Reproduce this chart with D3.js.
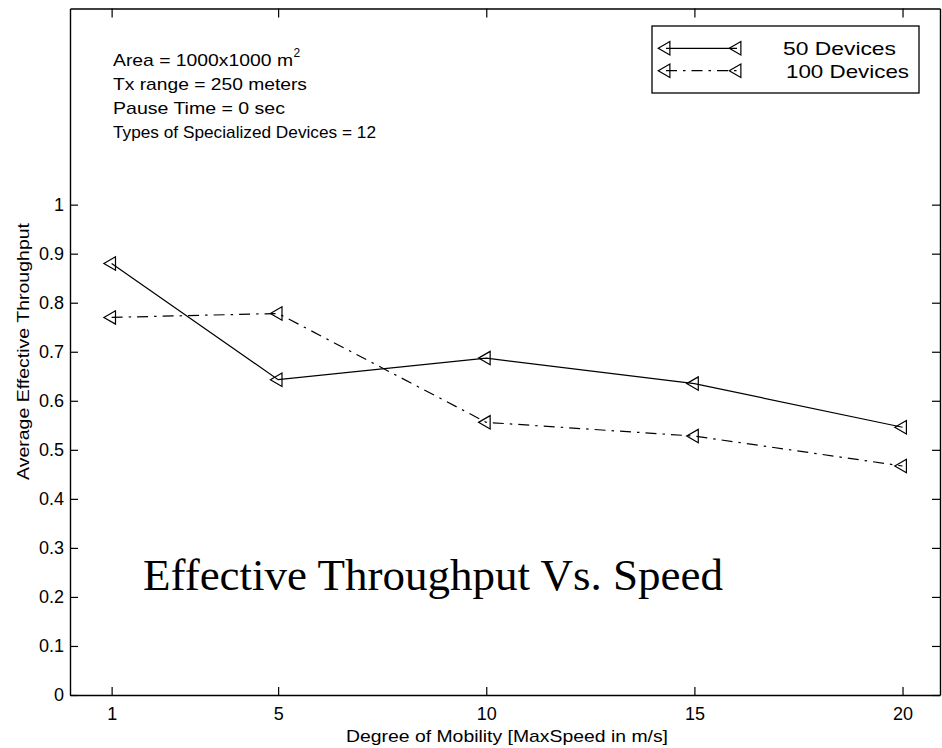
<!DOCTYPE html>
<html>
<head>
<meta charset="utf-8">
<script src="https://cdn.jsdelivr.net/npm/d3@7"></script>
<style>
  body { margin: 0; background: #fff; }
  text { font-family: "Liberation Sans", Arial, Helvetica, sans-serif; fill: #000; }
</style>
</head>
<body>
<div id="chart"></div>
<script>
// Data
const speeds = [1, 5, 10, 15, 20];
const devices50 = [0.880, 0.643, 0.687, 0.635, 0.546];
const devices100 = [0.770, 0.778, 0.556, 0.528, 0.467];
const seriesNames = ["50 Devices", "100 Devices"];
const xTicks = [1, 5, 10, 15, 20];
const yTicks = [0, 0.1, 0.2, 0.3, 0.4, 0.5, 0.6, 0.7, 0.8, 0.9, 1];
const yTickLabels = ["0", "0.1", "0.2", "0.3", "0.4", "0.5", "0.6", "0.7", "0.8", "0.9", "1"];
const notes = ["Area = 1000x1000 m", "Tx range = 250 meters", "Pause Time = 0 sec", "Types of Specialized Devices = 12"];

const W = 942, H = 748;
const plotL = 70, plotR = 940, plotT = 8.5, plotB = 695;

const svg = d3.select("#chart").append("svg")
  .attr("width", W).attr("height", H)
  .style("background", "#fff");

// Scales
const x = d3.scaleLinear().domain([0, 20.9]).range([plotL, plotR]);
const y = d3.scaleLinear().domain([0, 1.4]).range([plotB, plotT]);

// Axes (box with inward ticks on all sides)
const styleAxis = g => {
  g.select(".domain").attr("stroke", "#000").attr("stroke-width", 1.4);
  g.selectAll(".tick line").attr("stroke", "#000").attr("stroke-width", 1.2);
  g.selectAll(".tick text").attr("fill", "#000")
    .style("font-size", "18px")
    .style("font-family", '"Liberation Sans", Arial, sans-serif');
};

svg.append("g")
  .attr("transform", `translate(0,${plotB})`)
  .call(d3.axisBottom(x).tickValues(xTicks).tickSize(-8).tickSizeOuter(0).tickPadding(12))
  .call(styleAxis);

svg.append("g")
  .attr("transform", `translate(0,${plotT})`)
  .call(d3.axisTop(x).tickValues(xTicks).tickSize(-9).tickSizeOuter(0).tickFormat(""))
  .call(styleAxis);

svg.append("g")
  .attr("transform", `translate(${plotL},0)`)
  .call(d3.axisLeft(y).tickValues(yTicks).tickSize(-8).tickSizeOuter(0).tickPadding(6)
    .tickFormat((d, i) => yTickLabels[i]))
  .call(styleAxis);

svg.append("g")
  .attr("transform", `translate(${plotR},0)`)
  .call(d3.axisRight(y).tickValues(yTicks).tickSize(-8).tickSizeOuter(0).tickFormat(""))
  .call(styleAxis);

// Axis labels
svg.append("text")
  .attr("x", 346).attr("y", 742)
  .attr("textLength", 322).attr("lengthAdjust", "spacingAndGlyphs")
  .style("font-size", "17px")
  .text("Degree of Mobility [MaxSpeed in m/s]");

svg.append("text")
  .attr("transform", "translate(29,351.5) rotate(-90)")
  .attr("text-anchor", "middle")
  .attr("textLength", 257).attr("lengthAdjust", "spacingAndGlyphs")
  .style("font-size", "16px")
  .text("Average Effective Throughput");

// Lines and markers
const line = d3.line().x((d, i) => x(speeds[i])).y(d => y(d));
const marker = d3.symbol().type(d3.symbolTriangle).size(78);
const dash = ["none", "11,6,2.5,6"];

[devices50, devices100].forEach((vals, k) => {
  svg.append("path")
    .datum(vals)
    .attr("d", line)
    .attr("fill", "none")
    .attr("stroke", "#000")
    .attr("stroke-width", 1.2)
    .attr("stroke-dasharray", dash[k]);

  svg.selectAll(".m" + k)
    .data(vals)
    .enter().append("path")
    .attr("class", "m" + k)
    .attr("d", marker)
    .attr("transform", (d, i) => `translate(${x(speeds[i])},${y(d)}) rotate(-90)`)
    .attr("fill", "none")
    .attr("stroke", "#000")
    .attr("stroke-width", 1.2);
});

// Legend
const lg = svg.append("g");
lg.append("rect")
  .attr("x", 652).attr("y", 26).attr("width", 267).attr("height", 67)
  .attr("fill", "#fff").attr("stroke", "#000").attr("stroke-width", 1.3);

const legRows = [48.3, 70.7];
const legTextX = [783, 786];
const legTextLen = [113, 123];
seriesNames.forEach((name, k) => {
  const ly = legRows[k];
  lg.append("line")
    .attr("x1", 666).attr("x2", 737).attr("y1", ly).attr("y2", ly)
    .attr("stroke", "#000").attr("stroke-width", 1.2)
    .attr("stroke-dasharray", dash[k]);
  [666, 737].forEach(mx => {
    lg.append("path")
      .attr("d", marker)
      .attr("transform", `translate(${mx},${ly}) rotate(-90)`)
      .attr("fill", "none").attr("stroke", "#000").attr("stroke-width", 1.2);
  });
  lg.append("text")
    .attr("x", legTextX[k]).attr("y", ly + 6.8)
    .attr("textLength", legTextLen[k]).attr("lengthAdjust", "spacingAndGlyphs")
    .style("font-size", "18.5px")
    .text(name);
});

// Annotation block
const noteLens = [180, 194, 172, 263];
notes.forEach((t, i) => {
  svg.append("text")
    .attr("x", 113).attr("y", 66 + i * 24)
    .attr("textLength", noteLens[i]).attr("lengthAdjust", "spacingAndGlyphs")
    .style("font-size", "17px")
    .text(t);
});
svg.append("text")
  .attr("x", 293.5).attr("y", 57)
  .style("font-size", "12px")
  .text("2");

// Big caption inside the plot
svg.append("text")
  .attr("x", 143).attr("y", 590)
  .style("font-family", '"Liberation Serif", "Times New Roman", serif')
  .style("font-size", "45px")
  .text("Effective Throughput Vs. Speed");
</script>
</body>
</html>
